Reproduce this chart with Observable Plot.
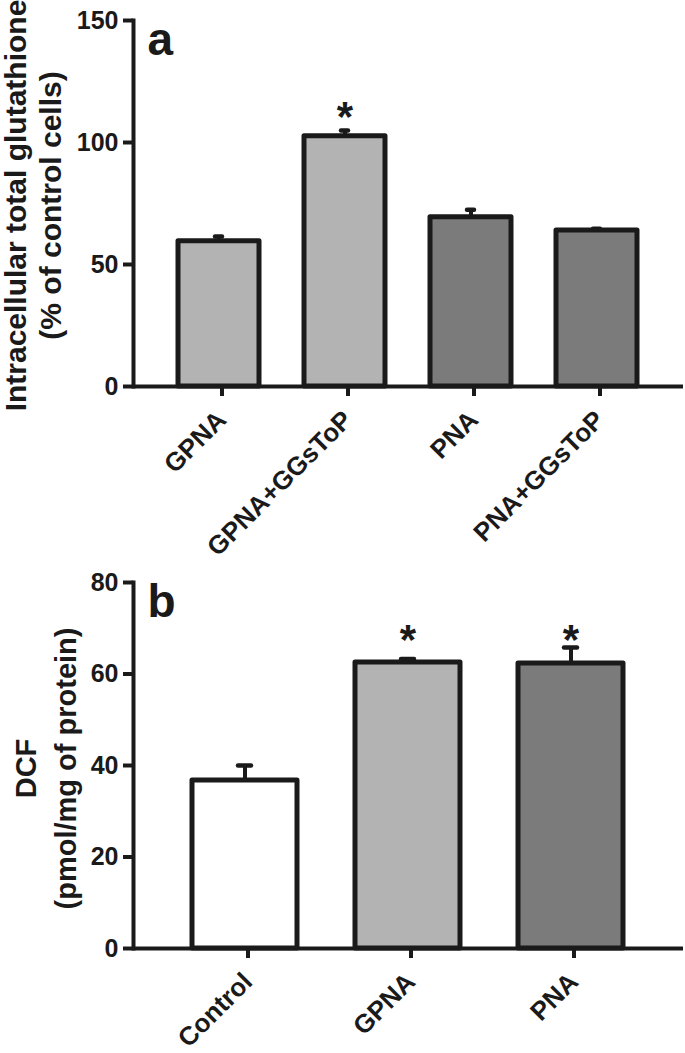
<!DOCTYPE html>
<html>
<head>
<meta charset="utf-8">
<script src="https://cdn.jsdelivr.net/npm/d3@7"></script>
<script src="https://cdn.jsdelivr.net/npm/@observablehq/plot@0.6"></script>
<style>
  html, body { margin: 0; padding: 0; background: #fff; }
  #chart { width: 685px; }
  #chart svg { display: block; font-family: "Liberation Sans", Arial, sans-serif; font-weight: bold; }
</style>
</head>
<body>
<div id="chart"></div>
<script>
// Panel a
const catsA = ["GPNA", "GPNA+GGsToP", "PNA", "PNA+GGsToP"];
const valuesA = [59.5, 102.6, 69.4, 63.9];
const errA = [2.0, 2.3, 3.0, 0.8];
const fillsA = ["#b3b3b3", "#b3b3b3", "#7b7b7b", "#7b7b7b"];
const starsA = [{cat: "GPNA+GGsToP", y: 104.9}];
const ticksA = [0, 50, 100, 150];
const titleA = "Intracellular total glutathione\n(% of control cells)";

// Panel b
const catsB = ["Control", "GPNA", "PNA"];
const valuesB = [36.7, 62.5, 62.3];
const errB = [3.3, 0.8, 3.5];
const fillsB = ["#ffffff", "#b3b3b3", "#7b7b7b"];
const starsB = [{cat: "GPNA", y: 64.3}, {cat: "PNA", y: 64.3}];
const ticksB = [0, 20, 40, 60, 80];
const titleB = "DCF\n(pmol/mg of protein)";

const ink = "#1a1a1a";

function panel({cats, values, errs, fills, stars, ticks, ymax, title, letter,
                height, marginTop, marginBottom, titleDx, titleDy, titleSize, titleLH, capInset}) {
  const data = cats.map((c, i) => ({cat: c, value: values[i], top: values[i] + errs[i]}));
  return Plot.plot({
    width: 685,
    height,
    marginLeft: 133,
    marginRight: 2,
    marginTop,
    marginBottom,
    style: {fontFamily: '"Liberation Sans", Arial, sans-serif', fontWeight: "bold", color: ink, background: "transparent", overflow: "visible"},
    x: {type: "band", domain: cats, padding: 0.355, label: null},
    y: {domain: [0, ymax], label: null},
    color: {domain: cats, range: fills},
    marks: [
      Plot.ruleX(data, {x: "cat", y1: "value", y2: "top", stroke: ink, strokeWidth: 4}),
      Plot.tickY(data, {x: "cat", y: "top", stroke: ink, strokeWidth: 4.5, strokeLinecap: "round", insetLeft: capInset, insetRight: capInset}),
      Plot.barY(data, {x: "cat", y: "value", fill: "cat", stroke: ink, strokeWidth: 5, strokeLinejoin: "round"}),
      Plot.text(stars, {x: "cat", y: "y", text: () => "*", fontSize: 42, fontWeight: "bold", fill: ink, lineAnchor: "bottom"}),
      Plot.axisY({ticks, tickSize: 10, tickPadding: 5, fontSize: 25, fontWeight: "bold", stroke: ink, strokeWidth: 4, fill: ink, label: null}),
      Plot.axisX({tickSize: 10, tickPadding: 19, tickRotate: -45, fontSize: 26, fontWeight: "bold", stroke: ink, strokeWidth: 4, fill: ink, dx: 3, label: null}),
      Plot.frame({anchor: "left", stroke: ink, strokeWidth: 4}),
      Plot.ruleY([0], {stroke: ink, strokeWidth: 4}),
      Plot.text([letter], {frameAnchor: "top-left", dx: 14, dy: 34, lineAnchor: "bottom", textAnchor: "start", fontSize: 46, fontWeight: "bold", fill: ink}),
      Plot.text([title], {frameAnchor: "left", rotate: -90, dx: titleDx, dy: titleDy, textAnchor: "middle", lineAnchor: "middle", fontSize: titleSize, lineHeight: titleLH, fontWeight: "bold", fill: ink})
    ]
  });
}

const chart = document.getElementById("chart");
chart.appendChild(panel({
  cats: catsA, values: valuesA, errs: errA, fills: fillsA, stars: starsA, ticks: ticksA, ymax: 150,
  title: titleA, letter: "a", height: 568, marginTop: 20, marginBottom: 182,
  titleDx: -101, titleDy: 2, titleSize: 30, titleLH: 1.15, capInset: 44
}));
chart.appendChild(panel({
  cats: catsB, values: valuesB, errs: errB, fills: fillsB, stars: starsB, ticks: ticksB, ymax: 80,
  title: titleB, letter: "b", height: 485, marginTop: 14, marginBottom: 105,
  titleDx: -90, titleDy: 3, titleSize: 29, titleLH: 1.35, capInset: 59
}));
</script>
</body>
</html>
